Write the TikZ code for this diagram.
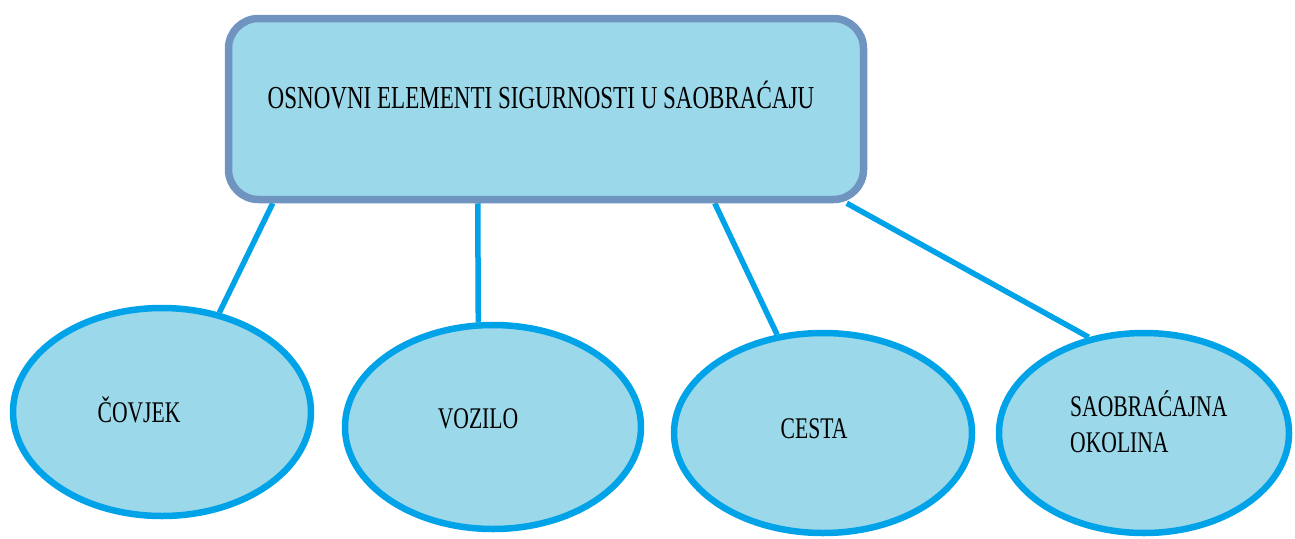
\documentclass[tikz,border=0pt]{standalone}
\usepackage{fontspec}
\setmainfont{Liberation Serif}[FakeStretch=0.72]
\usetikzlibrary{shapes.geometric,backgrounds}
\definecolor{boxfill}{HTML}{9BD8EA}
\definecolor{boxline}{HTML}{7094C0}
\definecolor{linkblue}{HTML}{00A2E8}

\begin{document}
\begin{tikzpicture}[x=1pt,y=-1pt,
    main/.style={draw=boxline,fill=boxfill,line width=7.5pt,rounded corners=30pt,
      minimum width=635pt,minimum height=181pt,inner sep=0pt},
    part/.style={ellipse,draw=linkblue,fill=boxfill,line width=6.5pt,inner sep=0pt},
    word/.style={inner sep=0pt,font=\fontsize{30}{36}\selectfont},
    link/.style={draw=linkblue,line width=5.5pt}]
  \useasboundingbox (0,0) rectangle (1295,538);
  % top box
  \node[main] (top) at (546,109) {};
  \node[word,font=\fontsize{32}{38}\selectfont,anchor=base] (title) at (541,108)
    {OSNOVNI ELEMENTI SIGURNOSTI U SAOBRAĆAJU};
  % the four elements
  \node[part,minimum width=298pt,minimum height=208pt] (covjek) at (162,412) {};
  \node[part,minimum width=296pt,minimum height=204pt] (vozilo) at (493,427) {};
  \node[part,minimum width=298pt,minimum height=200pt] (cesta) at (823,433) {};
  \node[part,minimum width=290pt,minimum height=200pt] (okolina) at (1144,433) {};
  \node[word,anchor=base] (t1) at (139,422) {ČOVJEK};
  \node[word,anchor=base] (t2) at (478,428) {VOZILO};
  \node[word,anchor=base] (t3) at (814,438) {CESTA};
  \node[word,anchor=west,align=left] (t4) at (1070,422) {SAOBRAĆAJNA\\OKOLINA};
  \begin{scope}[on background layer]
    \draw[link] ([xshift=48pt]top.south west) -- (covjek.60);
    \draw[link] ([xshift=253pt]top.south west) -- (vozilo.98);
    \draw[link] ([xshift=490pt]top.south west) -- (cesta.115);
    \draw[link] ([xshift=622pt]top.south west) -- (okolina.120);
  \end{scope}
\end{tikzpicture}
\end{document}
